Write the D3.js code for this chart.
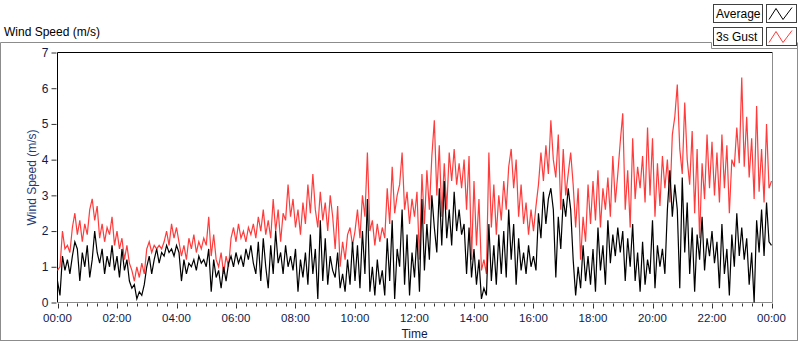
<!DOCTYPE html>
<html>
<head>
<meta charset="utf-8">
<script src="https://cdn.jsdelivr.net/npm/d3@7/dist/d3.min.js"></script>
<style>
    body { margin: 0; background: #fff; }
    text { font-family: "Liberation Sans", Arial, sans-serif; }
</style>
</head>
<body>
<div id="chart-area"></div>
<script>
/*
*    wind speed chart
*/

var w = 800;
var h = 342;

// one reading every 5 minutes, 00:00 -> 24:00
var stepMinutes = 5;

var gust = [
    0.9, 1.0, 2.0, 1.5, 1.6, 1.4, 2.1, 2.5, 1.9, 2.3, 1.7, 2.2,
    1.9, 2.6, 2.9, 2.3, 2.7, 1.8, 2.2, 1.7, 2.1, 1.9, 2.4, 1.6,
    2.0, 1.5, 1.8, 1.2, 1.6, 1.1, 0.9, 0.6, 1.0, 0.7, 1.1, 0.8,
    1.5, 1.7, 1.4, 1.6, 1.5, 1.6, 1.5, 1.7, 2.0, 1.6, 2.2, 1.8,
    2.1, 1.7, 1.3, 1.6, 1.2, 1.8, 1.5, 1.9, 1.4, 1.7, 1.5, 1.8,
    1.6, 2.4, 1.3, 1.9, 1.2, 1.0, 1.4, 0.8, 1.3, 1.0, 1.8, 2.1,
    1.7, 2.2, 1.8, 2.0, 1.7, 2.1, 1.9, 2.2, 1.8, 2.4, 2.0, 2.6,
    1.9, 2.3, 1.8, 2.9, 2.0, 2.6, 1.7, 2.5, 2.3, 3.3, 2.4, 2.9,
    2.1, 2.6, 1.9, 2.8, 2.2, 3.3, 2.5, 3.6, 2.6, 2.1, 3.1, 2.3,
    2.8, 2.0, 3.0, 2.4, 1.5, 2.7, 1.0, 1.7, 1.2, 1.9, 2.1, 1.6,
    2.0, 2.6, 1.8, 3.0, 2.4, 4.2, 2.0, 2.3, 1.6, 2.2, 1.7, 2.1,
    1.8, 3.2, 2.2, 3.8, 2.5, 3.0, 3.3, 4.2, 2.6, 3.1, 2.2, 2.9,
    2.4, 3.1, 1.2, 3.6, 2.2, 3.7, 2.6, 4.1, 5.1, 3.0, 4.4, 2.4,
    3.9, 2.6, 4.2, 3.4, 4.3, 3.3, 3.9, 3.2, 4.0, 2.6, 4.1, 1.2,
    3.4, 1.6, 2.9, 0.9, 1.2, 0.8, 4.2, 2.1, 3.3, 1.9, 3.0, 2.3,
    3.4, 2.6, 3.8, 4.3, 3.2, 4.0, 2.4, 3.3, 2.2, 2.8, 1.9, 2.6,
    2.0, 2.7, 3.3, 4.2, 3.4, 4.4, 3.6, 5.1, 4.0, 3.5, 4.7, 2.6,
    4.3, 3.0, 3.6, 4.2, 3.3, 2.1, 3.2, 1.2, 2.4, 1.7, 3.3, 2.2,
    3.4, 2.3, 3.7, 2.1, 3.2, 2.6, 3.5, 2.4, 4.1, 2.8, 3.6, 4.5,
    5.3, 2.6, 3.7, 2.1, 4.6, 2.9, 3.8, 3.2, 4.1, 2.8, 4.9, 3.0,
    4.6, 2.4, 3.9, 2.7, 4.1, 3.2, 4.0, 2.8, 4.7, 5.2, 6.1, 4.3,
    3.6, 5.6, 4.0, 3.3, 4.8, 2.5, 4.3, 1.8, 3.9, 2.9, 4.7, 3.2,
    4.5, 3.0, 4.2, 2.8, 4.7, 3.2, 4.4, 2.5, 4.0, 3.8, 4.9, 3.9,
    6.3, 3.8, 5.2, 3.5, 4.6, 2.9, 5.5, 3.1, 4.3, 2.8, 5.0, 3.2,
    3.4
];

var average = [
    0.6, 0.2, 1.3, 0.9, 1.2, 0.8, 1.3, 1.7, 1.5, 0.6, 1.4, 1.0,
    1.6, 0.7, 1.2, 2.0, 1.4, 1.1, 1.5, 0.8, 1.3, 1.0, 1.6, 0.9,
    1.3, 0.7, 1.5, 0.9, 1.2, 0.6, 0.4, 0.5, 0.1, 0.3, 0.2, 0.5,
    1.0, 1.3, 0.8, 1.2, 1.5, 1.1, 1.4, 1.3, 1.6, 1.4, 1.5, 1.3,
    1.6, 1.4, 0.6, 1.2, 0.8, 1.1, 1.0, 1.2, 0.9, 1.3, 1.1, 1.2,
    1.0, 1.5, 0.3, 1.2, 0.7, 0.9, 0.4, 1.0, 0.6, 1.1, 1.3, 1.0,
    1.4, 1.1, 1.3, 1.0, 1.5, 1.2, 1.6, 1.1, 0.8, 1.7, 0.6, 1.8,
    1.0, 0.4, 1.6, 0.8, 2.0, 1.1, 1.4, 0.8, 1.6, 1.0, 1.3, 0.9,
    1.5, 0.3, 1.2, 0.7, 1.4, 0.5, 1.9, 0.8, 1.5, 0.1, 2.3, 0.6,
    1.8, 0.5, 1.3, 0.9, 0.7, 1.4, 0.4, 0.8, 0.3, 1.2, 0.5, 1.7,
    0.6, 1.6, 0.4, 2.0, 0.8, 2.9, 0.3, 1.0, 0.2, 1.2, 0.5, 0.9,
    0.2, 1.8, 0.6, 2.3, 0.1, 1.5, 1.0, 2.6, 0.5, 1.9, 0.2, 1.4,
    0.7, 1.9, 0.3, 2.9, 0.9, 2.2, 1.2, 3.0, 2.1, 1.4, 3.2, 1.6,
    3.4, 1.8, 2.6, 1.6, 3.1, 2.0, 2.6, 1.9, 2.2, 0.8, 2.1, 0.7,
    1.5, 0.5, 1.2, 0.1, 0.4, 0.2, 2.2, 0.6, 1.6, 0.5, 1.9, 0.8,
    2.0, 0.7, 2.6, 1.2, 2.2, 0.5, 1.8, 0.9, 1.4, 0.8, 1.6, 1.0,
    1.3, 0.9, 2.5, 1.8, 3.1, 2.2, 2.9, 3.2, 2.6, 0.7, 2.4, 1.5,
    2.9, 2.4, 3.2, 2.6, 1.2, 0.2, 1.0, 0.4, 1.6, 0.6, 1.3, 0.5,
    1.5, 0.3, 2.1, 0.9, 1.6, 0.5, 2.3, 1.1, 1.9, 1.3, 2.1, 1.4,
    2.0, 0.6, 1.8, 1.0, 2.2, 0.6, 1.4, 0.3, 1.7, 0.5, 1.2, 0.8,
    2.3, 0.4, 1.6, 1.0, 1.5, 0.8, 2.6, 3.7, 2.4, 3.3, 2.6, 0.4,
    3.5, 1.4, 2.8, 0.8, 2.1, 0.3, 1.9, 1.2, 2.4, 0.9, 1.8, 1.3,
    2.0, 1.1, 1.7, 0.4, 2.2, 0.8, 1.5, 0.2, 1.9, 1.0, 2.5, 1.3,
    2.1, 1.2, 1.8, 0.5, 1.4, 0.0, 2.3, 1.4, 2.6, 1.3, 2.8, 1.7,
    1.6
];

var timeLabels = ["00:00", "02:00", "04:00", "06:00", "08:00", "10:00", "12:00",
                  "14:00", "16:00", "18:00", "20:00", "22:00", "00:00"];
var speedTicks = [0, 1, 2, 3, 4, 5, 6, 7];
var seriesNames = ["Average", "3s Gust"];
var seriesColors = ["#000000", "#ff3b3b"];

var margin = { left: 57.5, right: 771.5, top: 52.5, bottom: 302.5 };
var labelColor = "#101a48";

var svg = d3.select("#chart-area")
    .append("svg")
        .attr("width", w)
        .attr("height", h);

// outer frame + title
svg.append("text")
    .attr("x", 4)
    .attr("y", 36)
    .attr("font-size", 12)
    .attr("fill", "#000")
    .text("Wind Speed (m/s)");

svg.append("path")
    .attr("d", "M0.5,341 V42.5 H711.5 M711.5,42.5 V48.5 H797.5 M797.5,42.5 V341 M0.5,340.5 H797.5")
    .attr("fill", "none")
    .attr("stroke", "#8c8c8c");

// legend
seriesNames.forEach(function(name, i){
    var y0 = 4.5 + i * 23;
    svg.append("rect")
        .attr("x", 713.5).attr("y", y0)
        .attr("width", 49).attr("height", 18)
        .attr("fill", "#fff")
        .attr("stroke", "#404040");
    svg.append("text")
        .attr("x", 716).attr("y", y0 + 13.5)
        .attr("font-size", 12)
        .text(name);
    svg.append("rect")
        .attr("x", 766.5).attr("y", y0)
        .attr("width", 30).attr("height", 18)
        .attr("fill", "#fff")
        .attr("stroke", "#404040");
    svg.append("path")
        .attr("d", "M769," + (y0 + 15) + " L776," + (y0 + 4) + " L783," + (y0 + 15) + " L792," + (y0 + 3))
        .attr("fill", "none")
        .attr("stroke", seriesColors[i]);
});

// scales
var x = d3.scaleLinear()
    .domain([0, 24 * 60])
    .range([margin.left, margin.right]);

var y = d3.scaleLinear()
    .domain([0, 7])
    .range([margin.bottom, margin.top]);

// y axis
var yAxis = d3.axisLeft(y)
    .tickValues(speedTicks)
    .tickSize(5)
    .tickPadding(3)
    .tickFormat(d3.format("d"));

var gy = svg.append("g")
    .attr("transform", "translate(" + (margin.left - 1) + ",0)")
    .call(yAxis);
gy.select(".domain").remove();
gy.selectAll("line").attr("stroke", "#333");
gy.selectAll("text")
    .attr("font-size", 12)
    .attr("fill", labelColor);

// x axis - minor ticks every 20 minutes, labels every 2 hours
var minorTicks = d3.range(0, 24 * 60 + 1, 20);
svg.append("g")
    .selectAll("line")
    .data(minorTicks)
    .enter()
    .append("line")
        .attr("x1", function(d){ return Math.round(x(d)) + 0.5; })
        .attr("x2", function(d){ return Math.round(x(d)) + 0.5; })
        .attr("y1", margin.bottom + 1)
        .attr("y2", function(d){ return d % 120 === 0 ? margin.bottom + 6 : margin.bottom + 4; })
        .attr("stroke", "#333");

svg.append("g")
    .selectAll("text")
    .data(timeLabels)
    .enter()
    .append("text")
        .attr("x", function(d, i){ return x(i * 120); })
        .attr("y", 322)
        .attr("text-anchor", "middle")
        .attr("font-size", 11.5)
        .attr("fill", labelColor)
        .text(function(d){ return d; });

svg.append("text")
    .attr("x", (margin.left + margin.right) / 2)
    .attr("y", 338)
    .attr("text-anchor", "middle")
    .attr("font-size", 12)
    .attr("fill", labelColor)
    .text("Time");

svg.append("text")
    .attr("transform", "translate(36," + ((margin.top + margin.bottom) / 2) + ") rotate(-90)")
    .attr("text-anchor", "middle")
    .attr("font-size", 12)
    .attr("fill", "#1f3a78")
    .text("Wind Speed (m/s)");

// plot frame
svg.append("rect")
    .attr("x", margin.left)
    .attr("y", margin.top)
    .attr("width", margin.right - margin.left)
    .attr("height", margin.bottom - margin.top)
    .attr("fill", "#fff");

svg.append("path")
    .attr("d", "M" + margin.left + "," + margin.bottom + " V" + margin.top + " H" + (margin.right + 1))
    .attr("fill", "none")
    .attr("stroke", "#000");
svg.append("path")
    .attr("d", "M" + (margin.right + 1) + "," + margin.top + " V" + margin.bottom + " H" + margin.left)
    .attr("fill", "none")
    .attr("stroke", "#8c8c8c");

// lines
var line = d3.line()
    .x(function(d, i){ return x(i * stepMinutes); })
    .y(function(d){ return y(d); });

[gust, average].forEach(function(series, i){
    svg.append("path")
        .datum(series)
        .attr("d", line)
        .attr("fill", "none")
        .attr("stroke", i === 0 ? seriesColors[1] : seriesColors[0])
        .attr("stroke-width", 1.2);
});
</script>
</body>
</html>
